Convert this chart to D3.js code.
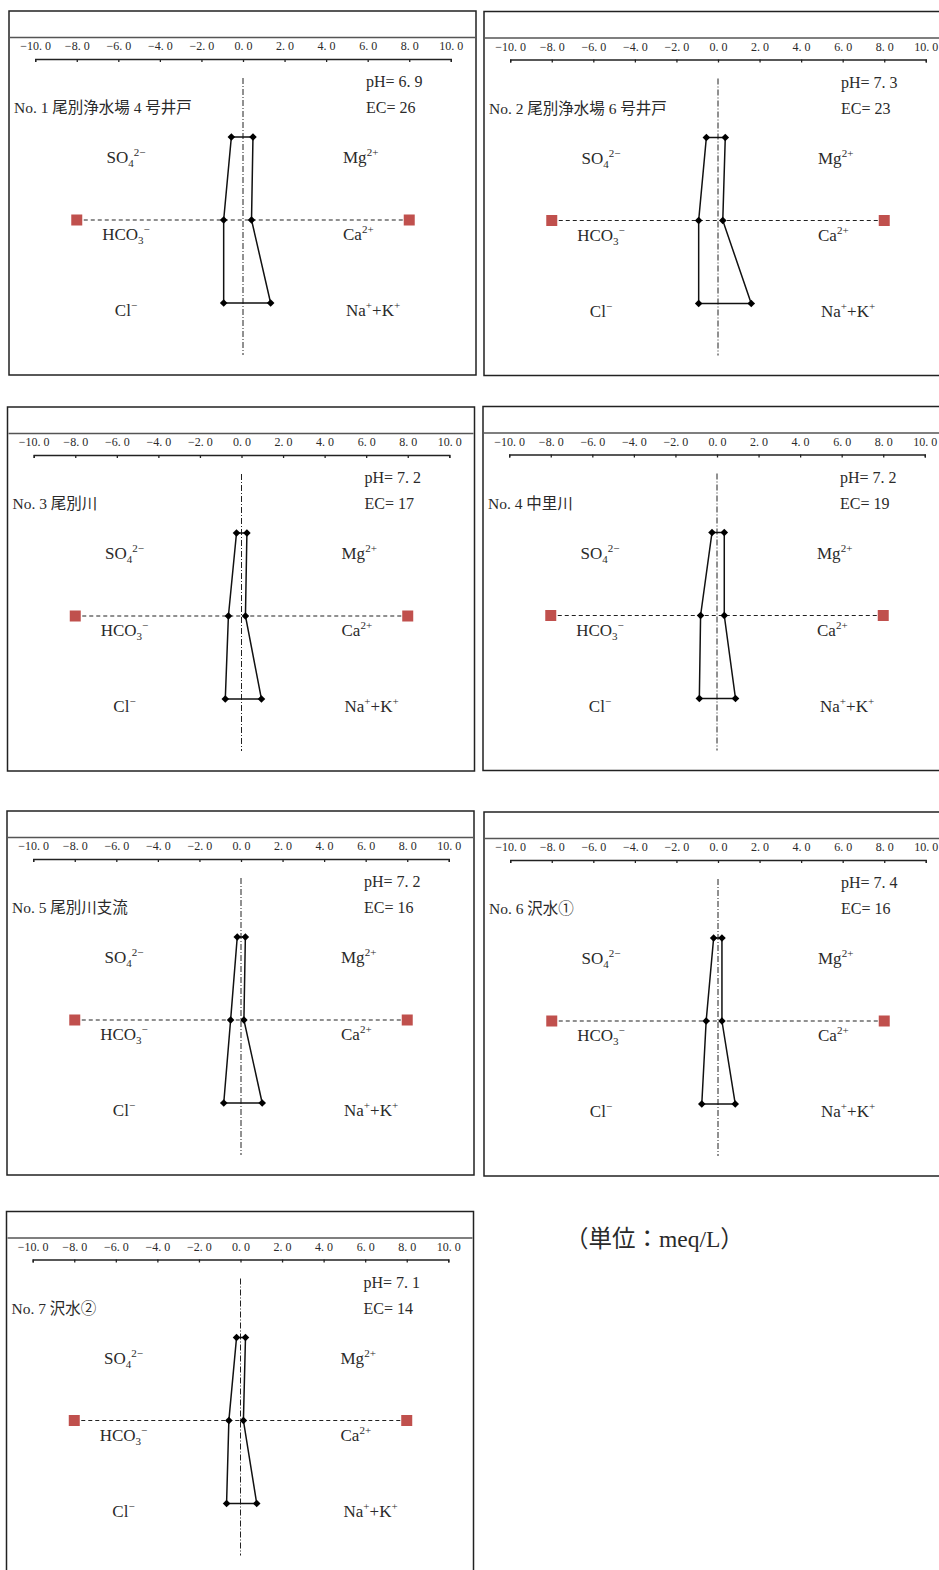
<!DOCTYPE html>
<html>
<head>
<meta charset="utf-8">
<script src="https://cdn.jsdelivr.net/npm/d3@7"></script>
<style>
  body { margin: 0; background: #fff; }
  text { font-family: "Liberation Serif", "Noto Sans CJK JP", serif; fill: #2a2a2a; }
</style>
</head>
<body>
<div id="viz"></div>
<script>
// sample names and field values
const sites = [
    "No. 1 尾別浄水場 4 号井戸",
    "No. 2 尾別浄水場 6 号井戸",
    "No. 3 尾別川",
    "No. 4 中里川",
    "No. 5 尾別川支流",
    "No. 6 沢水①",
    "No. 7 沢水②"
];
const pH = [6.9, 7.3, 7.2, 7.2, 7.2, 7.4, 7.1];
const EC = [26, 23, 17, 19, 16, 16, 14];

// anions (meq/L), drawn on the left side
const so4  = [0.56, 0.56, 0.24, 0.24, 0.18, 0.21, 0.19];
const hco3 = [0.93, 0.93, 0.63, 0.79, 0.50, 0.57, 0.56];
const cl   = [0.93, 0.93, 0.78, 0.85, 0.83, 0.78, 0.67];
// cations (meq/L), drawn on the right side
const mg   = [0.48, 0.35, 0.26, 0.35, 0.21, 0.19, 0.24];
const ca   = [0.41, 0.23, 0.19, 0.35, 0.14, 0.19, 0.14];
const nak  = [1.33, 1.60, 0.96, 0.89, 1.02, 0.83, 0.78];

const tickValues = [-10, -8, -6, -4, -2, 0, 2, 4, 6, 8, 10];
const refValue = 8;   // red reference markers
const unitLabel = "（単位：meq/L）";

// layout
const width = 939, height = 1570;
const panelW = 467, panelH = 364;
const panelPos = [[9, 11], [484, 11.5], [7.5, 407], [483, 406.5], [7, 811], [484, 812], [6.5, 1211.5]];

const svg = d3.select("#viz")
  .append("svg")
    .attr("width", width)
    .attr("height", height);

const x = d3.scaleLinear().domain([-10, 10]).range([26.2, 441.8]);
const y = d3.scalePoint().domain(["top", "mid", "bottom"]).range([126, 292]);

const fmt = d => d3.format(".1f")(d).replace(".", ". ");

// text with sub/superscripts: parts = [text, shift] where shift -1 = sup, 1 = sub
function ionText(g, px, py, anchor, parts) {
    const t = g.append("text")
        .attr("x", px).attr("y", py)
        .attr("text-anchor", anchor)
        .attr("font-size", 17);
    let cur = 0;
    parts.forEach(function(p) {
        const target = p[1] === -1 ? -7 : (p[1] === 1 ? 4 : 0);
        t.append("tspan")
            .attr("dy", target - cur)
            .attr("font-size", p[1] === 0 ? 17 : 11)
            .text(p[0]);
        cur = target;
    });
}

sites.forEach(function(name, i) {
    const g = svg.append("g")
        .attr("transform", `translate(${panelPos[i][0]},${panelPos[i][1]})`);

    // frame and top rule
    g.append("rect")
        .attr("width", panelW).attr("height", panelH)
        .attr("fill", "none").attr("stroke", "#222").attr("stroke-width", 1.5);
    g.append("line")
        .attr("x1", 1).attr("x2", panelW - 1)
        .attr("y1", 26.5).attr("y2", 26.5)
        .attr("stroke", "#555").attr("stroke-width", 1.5);

    // scale axis
    const ax = g.append("g")
        .attr("transform", "translate(0,48)")
        .call(d3.axisTop(x)
            .tickValues(tickValues)
            .tickSizeInner(-3)
            .tickSizeOuter(-3)
            .tickPadding(9)
            .tickFormat(fmt));
    ax.attr("font-family", null).attr("font-size", 12);
    ax.selectAll("path, line").attr("stroke", "#222").attr("stroke-width", 1.3);

    // centre line (dash-dot)
    g.append("line")
        .attr("x1", x(0)).attr("x2", x(0))
        .attr("y1", 67).attr("y2", 344)
        .attr("stroke", "#222").attr("stroke-width", 1)
        .attr("stroke-dasharray", "6,2,1,2");

    // dashed reference line with red markers
    g.append("line")
        .attr("x1", x(-refValue)).attr("x2", x(refValue))
        .attr("y1", y("mid")).attr("y2", y("mid"))
        .attr("stroke", "#222").attr("stroke-width", 1.2)
        .attr("stroke-dasharray", "4,3");
    g.selectAll(".ref")
        .data([-refValue, refValue])
        .join("rect")
        .attr("x", d => x(d) - 5.5).attr("y", y("mid") - 5.5)
        .attr("width", 11).attr("height", 11)
        .attr("fill", "#c0504d");

    // stiff polygon
    const pts = [
        [mg[i], "top"], [ca[i], "mid"], [nak[i], "bottom"],
        [-cl[i], "bottom"], [-hco3[i], "mid"], [-so4[i], "top"]
    ];
    g.append("path")
        .datum(pts)
        .attr("fill", "none")
        .attr("stroke", "#111")
        .attr("stroke-width", 1.5)
        .attr("d", d3.line()
            .x(d => x(d[0]))
            .y(d => y(d[1]))
            .curve(d3.curveLinearClosed));
    g.selectAll(".pt")
        .data(pts)
        .join("path")
        .attr("transform", d => `translate(${x(d[0])},${y(d[1])})`)
        .attr("d", "M0,-3.8L3.8,0L0,3.8L-3.8,0Z")
        .attr("fill", "#000");

    // texts
    g.append("text").attr("x", 5).attr("y", 102).attr("font-size", 15.5).text(name);
    g.append("text").attr("x", 357).attr("y", 76).attr("font-size", 16).text("pH= " + fmt(pH[i]));
    g.append("text").attr("x", 357).attr("y", 102).attr("font-size", 16).text("EC= " + EC[i]);

    ionText(g, 117, 152, "middle", [["SO", 0], ["4", 1], ["2−", -1]]);
    ionText(g, 117, 229, "middle", [["HCO", 0], ["3", 1], ["−", -1]]);
    ionText(g, 117, 305, "middle", [["Cl", 0], ["−", -1]]);
    ionText(g, 334, 152, "start", [["Mg", 0], ["2+", -1]]);
    ionText(g, 334, 229, "start", [["Ca", 0], ["2+", -1]]);
    ionText(g, 337, 305, "start", [["Na", 0], ["+", -1], ["+K", 0], ["+", -1]]);
});

// unit note
svg.append("text")
    .attr("x", 565).attr("y", 1247)
    .attr("font-size", 23.5)
    .text(unitLabel);
</script>
</body>
</html>
